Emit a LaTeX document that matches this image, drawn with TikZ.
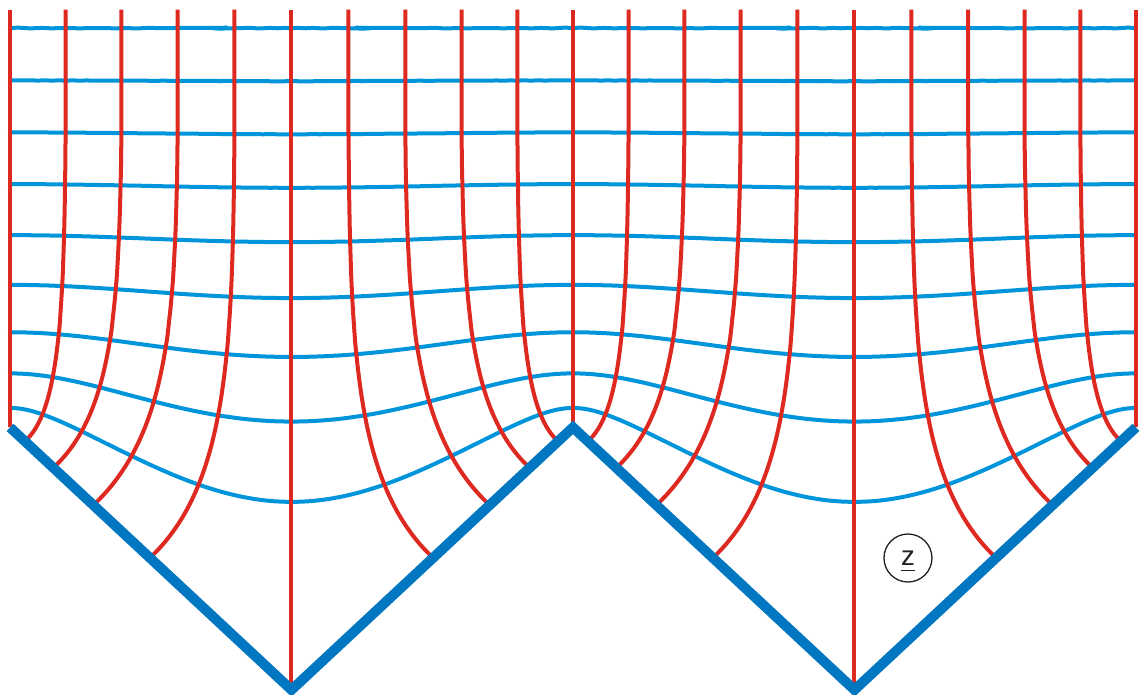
\documentclass[tikz,border=0pt]{standalone}
\usepackage{fontspec}
\newfontfamily\labelfont{Liberation Sans}
\usetikzlibrary{calc}
\definecolor{colField}{RGB}{222,41,33}
\definecolor{colEquip}{RGB}{0,149,218}
\definecolor{colWall}{RGB}{0,119,192}
\definecolor{colLabel}{RGB}{35,31,32}
\tikzset{
    fieldline/.style={draw=colField, line width=2pt},
    equipot/.style={draw=colEquip, line width=2pt, line cap=round},
    wall/.style={draw=colWall, line width=5pt, line join=miter},
    zlabel/.style={circle, draw=colLabel, line width=0.65pt, minimum size=24pt, inner sep=0pt,
        text height=7pt, text depth=0pt, text=colLabel,
        font=\labelfont\fontsize{13.8}{14}\selectfont}
}
\newcommand{\zul}[1]{\vtop{\hbox{#1}\kern2.5pt\hrule height 0.65pt}}
% point of the field plane for xi + i eta (half cell), result in \zx, \zy
\newcommand{\zmap}[2]{%
  \pgfmathsetmacro\cmD{cos(deg(2*(#1)))+cosh(2*(#2))}%
  \pgfmathsetmacro\cmTa{sin(deg(2*(#1)))/\cmD}%
  \pgfmathsetmacro\cmTb{sinh(2*(#2))/\cmD}%
  \pgfmathsetmacro\cmTm{veclen(\cmTa,\cmTb)}%
  \pgfmathsetmacro\cmUa{sqrt(max(0,(\cmTm+\cmTa)/2))}%
  \pgfmathsetmacro\cmUb{sqrt(max(0,(\cmTm-\cmTa)/2))}%
  \pgfmathsetmacro\cmPa{rad(atan2(\cmUb-0.707107,\cmUa-0.707107))+3*pi/4}%
  \pgfmathsetmacro\cmPb{rad(atan2(\cmUb-0.707107,\cmUa+0.707107))+pi/4}%
  \pgfmathsetmacro\cmPc{rad(atan2(\cmUb+0.707107,\cmUa+0.707107))-pi/4}%
  \pgfmathsetmacro\cmPd{rad(atan2(\cmUb+0.707107,\cmUa-0.707107))-3*pi/4}%
  \pgfmathsetmacro\cmLa{ln(veclen(\cmUa-0.707107,\cmUb-0.707107))}%
  \pgfmathsetmacro\cmLb{ln(veclen(\cmUa+0.707107,\cmUb-0.707107))}%
  \pgfmathsetmacro\cmLc{ln(veclen(\cmUa+0.707107,\cmUb+0.707107))}%
  \pgfmathsetmacro\cmLd{ln(veclen(\cmUa-0.707107,\cmUb+0.707107))}%
  \pgfmathsetmacro\zx{(\cmPa-\cmPc-\cmLb+\cmLd)/2}%
  \pgfmathsetmacro\zy{(\cmPd-\cmPb-\cmLa+\cmLc)/2}%
}

\begin{document}
\begin{tikzpicture}[x=89.6pt, y=83.55pt]
    \useasboundingbox (-0.0558,-1.6014) rectangle (6.3114,2.5578);

    \coordinate (t0) at (0,0);
    \coordinate (b1) at (pi/2,-pi/2);
    \coordinate (t1) at (pi,0);
    \coordinate (b2) at (3*pi/2,-pi/2);
    \coordinate (t2) at (2*pi,0);
    \coordinate (top) at (0,2.5);

    % equipotential lines
    \foreach \nm in {1,...,9}{
        \pgfmathsetmacro\cmEta{\nm*pi/10}
        \gdef\cmPts{}
        \foreach \nj in {0,...,40}{
            \pgfmathsetmacro\cmXi{\nj*pi/80}
            \zmap{\cmXi}{\cmEta}
            \xdef\cmPts{\cmPts (\zx,\zy)}
        }
        \foreach \f/\s in {1/0,-1/pi,1/pi,-1/2*pi}{
            \begin{scope}[shift={(\s,0)}, xscale=\f]
                \edef\cmDraw{\noexpand\draw[equipot] plot[smooth] coordinates {\cmPts};}
                \cmDraw
            \end{scope}
        }
    }

    % field lines
    \foreach \nk in {1,...,4}{
        \pgfmathsetmacro\cmXi{\nk*pi/10}
        \gdef\cmPts{}
        \foreach \ni in {0,...,30}{
            \pgfmathsetmacro\cmEta{2.2*\ni/30*(0.4+0.6*\ni/30)}
            \zmap{\cmXi}{\cmEta}
            \xdef\cmPts{\cmPts (\zx,\zy)}
            \xdef\cmTop{\zx}
        }
        \foreach \f/\s in {1/0,-1/pi,1/pi,-1/2*pi}{
            \begin{scope}[shift={(\s,0)}, xscale=\f]
                \edef\cmDraw{\noexpand\draw[fieldline] plot[smooth] coordinates {\cmPts} -- (\cmTop,2.5);}
                \cmDraw
            \end{scope}
        }
    }
    \foreach \v in {t0,b1,t1,b2,t2}
        \draw[fieldline] (\v) -- (\v |- top);

    \draw[wall] (t0) -- (b1) -- (t1) -- (b2) -- (t2);

    \node[zlabel] (zlab) at (5.011,-0.7816) {\zul{z}};

\end{tikzpicture}
\end{document}
